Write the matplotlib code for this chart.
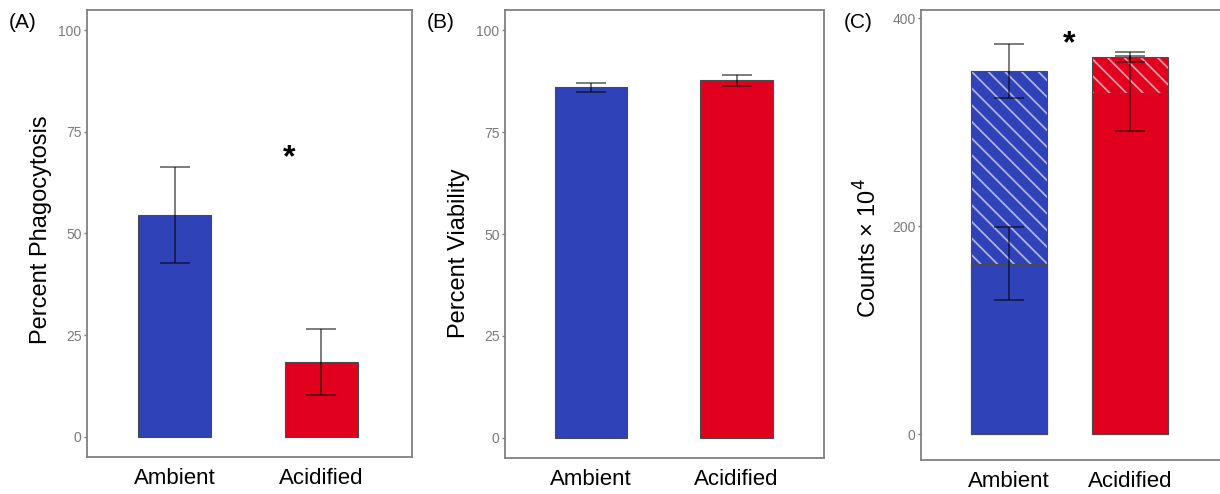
import matplotlib
matplotlib.use("Agg")
import matplotlib.pyplot as plt
import numpy as np

plt.rcParams['font.family'] = ['Liberation Sans', 'DejaVu Sans']
plt.rcParams['hatch.linewidth'] = 1.3

categories = ['Ambient', 'Acidified']
colors = ['#2F42B8', '#E2001F']

phago_mean = [54.5, 18.4]
phago_err = [11.8, 8.2]

viab_mean = [86.0, 87.7]
viab_err = [1.1, 1.4]

counts_total = [349, 363]
counts_total_err = [26, 5]
counts_lower = [164, 328]
counts_lower_err = [35, 36]

W, H = 1220, 494
fig = plt.figure(figsize=(W / 100, H / 100), dpi=100)


def px_axes(l, r, t, b):
    return fig.add_axes([l / W, (H - b) / H, (r - l) / W, (b - t) / H])


axA = px_axes(87, 412, 10, 457)
axB = px_axes(505, 824, 10, 458)
axC = px_axes(921, 1226, 10, 460)

spine_col = '#808080'
tick_col = '#7a7a7a'
edge_col = '#4a4a4a'
err_kw = dict(fmt='none', ecolor=(0, 0, 0, 0.6), elinewidth=1.2, capthick=1.2, zorder=5)

x = np.array([1, 2])


def style(ax, ticks):
    for s in ax.spines.values():
        s.set_color(spine_col)
        s.set_linewidth(1.3)
    ax.set_yticks(ticks)
    ax.tick_params(axis='y', colors=spine_col, labelcolor=tick_col, labelsize=10,
                   length=2.5, width=1, pad=1.5)
    ax.set_xticks(x)
    ax.set_xticklabels(categories, fontsize=16, color='black')
    ax.tick_params(axis='x', length=0, pad=8)


# Panel A
axA.bar(x, phago_mean, width=0.5, color=colors, edgecolor=edge_col, linewidth=0.8, zorder=2)
axA.errorbar(x, phago_mean, yerr=phago_err, capsize=10.5, **err_kw)
axA.set_xlim(0.4, 2.62)
axA.set_ylim(-5, 105)
style(axA, [0, 25, 50, 75, 100])
axA.text(1.78, 68.5, '*', fontsize=23, fontweight='bold', ha='center', va='center')

# Panel B
axB.bar(x, viab_mean, width=0.5, color=colors, edgecolor=edge_col, linewidth=0.8, zorder=2)
axB.errorbar(x, viab_mean, yerr=viab_err, capsize=10.5, **err_kw)
axB.set_xlim(0.41, 2.6)
axB.set_ylim(-5, 105)
style(axB, [0, 25, 50, 75, 100])

# Panel C
upper = [t - l for t, l in zip(counts_total, counts_lower)]
axC.bar(x, upper, bottom=counts_lower, width=0.63, color=colors,
        edgecolor=(1, 1, 1, 0.6), linewidth=0, hatch='\\\\', zorder=2)
axC.bar(x, counts_total, width=0.63, facecolor='none', edgecolor=edge_col,
        linewidth=0.8, zorder=3)
axC.bar(x, counts_lower, width=0.63, color=colors, edgecolor=edge_col,
        linewidth=0.8, zorder=3)
axC.errorbar(x, counts_total, yerr=counts_total_err, capsize=11, **err_kw)
axC.errorbar(x, counts_lower, yerr=counts_lower_err, capsize=11, **err_kw)
axC.set_xlim(0.275, 2.79)
axC.set_ylim(-25, 408)
style(axC, [0, 200, 400])
axC.text(1.5, 375, '*', fontsize=23, fontweight='bold', ha='center', va='center')

# Y labels
fig.text(41 / W, 1 - 230 / H, 'Percent Phagocytosis', rotation=90, fontsize=17,
         ha='center', va='center')
fig.text(459 / W, 1 - 253 / H, 'Percent Viability', rotation=90, fontsize=17,
         ha='center', va='center')
fig.text(868 / W, 1 - 248 / H, 'Counts \u00d7 10$^{4}$', rotation=90, fontsize=17,
         ha='center', va='center')

# Panel labels
fig.text(9 / W, 1 - 22 / H, '(A)', fontsize=15, ha='left', va='center')
fig.text(427 / W, 1 - 22 / H, '(B)', fontsize=15, ha='left', va='center')
fig.text(844 / W, 1 - 22 / H, '(C)', fontsize=15, ha='left', va='center')

fig.savefig('out.png', dpi=100)
